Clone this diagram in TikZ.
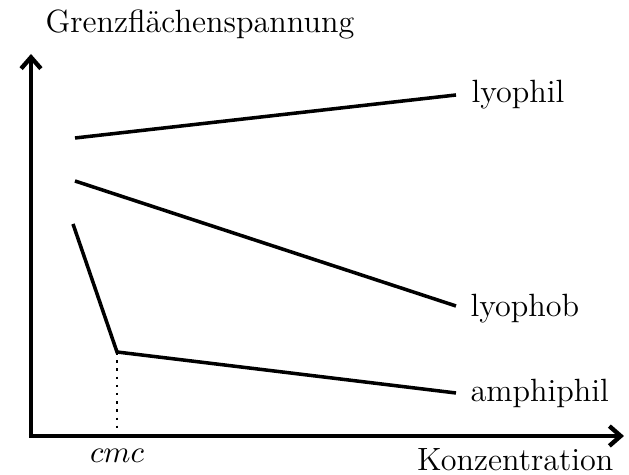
\documentclass[tikz,border=0pt]{standalone}
\usetikzlibrary{arrows.meta}
\begin{document}
\begin{tikzpicture}[x=0.354pt,y=-0.354pt,
  every node/.style={font=\fontsize{11.4pt}{14pt}\selectfont},
  axis/.style={line width=1.55pt,-{Straight Barb[length=4pt,width=7pt]}},
  curve/.style={line width=1.25pt,line join=miter},
  lbl/.style={inner sep=0pt,anchor=base west}]
\useasboundingbox (0,0) rectangle (629,475);
\coordinate (O) at (31,436);
\coordinate (Y) at (31,54);
\coordinate (X) at (624,436);
\draw[axis] (31,438) -- (Y);
\draw[axis] (29,436) -- (X);
\node[inner sep=0pt,anchor=base west] (ylab) at (45,33) {Grenzflächenspannung};
\node[inner sep=0pt,anchor=base east] (xlab) at (614,471) {Konzentration};
% lyophil
\coordinate (a1) at (75,138);
\coordinate (a2) at (456,95);
\draw[curve] (a1) -- (a2);
\node[lbl] (l1) at (471,103) {lyophil};
% lyophob
\coordinate (b1) at (75,181);
\coordinate (b2) at (456,306);
\draw[curve] (b1) -- (b2);
\node[lbl] (l2) at (470,317) {lyophob};
% amphiphil
\coordinate (c1) at (73,224);
\coordinate (c2) at (117,352);
\coordinate (c3) at (456,393);
\draw[curve] (c1) -- (c2) -- (c3);
\node[lbl] (l3) at (470,402) {amphiphil};
\coordinate (cb) at (117,434);
\draw[line width=0.9pt,dash pattern=on 0.9pt off 2pt] (c2) -- (cb);
\node[inner sep=0pt,anchor=base] (cmc) at (117,463) {$cmc$};
\end{tikzpicture}
\end{document}
